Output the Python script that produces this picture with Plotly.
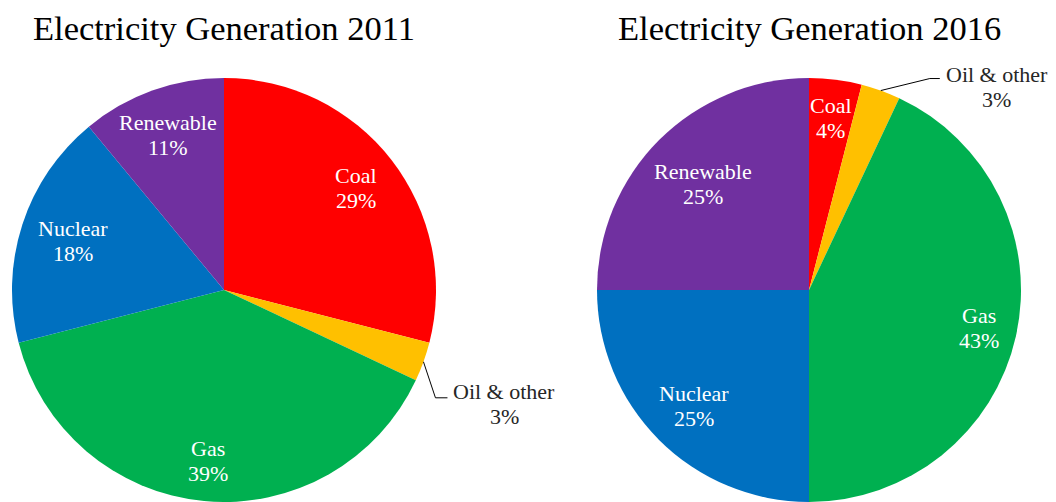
import math
import plotly.graph_objects as go

# Shares of electricity generation (%)
sources = ["Coal", "Oil & other", "Gas", "Nuclear", "Renewable"]
share_2011 = [29, 3, 39, 18, 11]
share_2016 = [4, 3, 43, 25, 25]
titles = ["Electricity Generation 2011", "Electricity Generation 2016"]

colors = ["#FF0000", "#FFC000", "#00B050", "#0070C0", "#7030A0"]

W, H = 1056, 502
FONT = "Liberation Serif"

# pie placement in pixels: centre x, centre y, radius
pies = [
    dict(cx=224, cy=290, r=212, values=share_2011, title=titles[0],
         label_frac=[0.79, None, 0.81, 0.75, 0.78],
         leader=dict(elbow=(12, 36), tail=12, text_dx=69, text_dy=-6)),
    dict(cx=809, cy=290, r=212, values=share_2016, title=titles[1],
         label_frac=[0.82, None, 0.82, 0.77, 0.71],
         leader=dict(elbow=(49, -12), tail=10, text_dx=67, text_dy=-4)),
]


def px(x):
    return x / W


def py(y):
    return 1 - y / H


fig = go.Figure()
annotations = []
shapes = []

for p in pies:
    cx, cy, r = p["cx"], p["cy"], p["r"]
    fig.add_trace(go.Pie(
        labels=sources,
        values=p["values"],
        sort=False,
        direction="clockwise",
        rotation=0,
        marker=dict(colors=colors, line=dict(width=0)),
        textinfo="none",
        hoverinfo="label+percent",
        showlegend=False,
        domain=dict(x=[px(cx - r), px(cx + r)], y=[py(cy + r), py(cy - r)]),
    ))

    # chart title
    annotations.append(dict(
        x=px(cx), y=py(28), xref="paper", yref="paper",
        text=p["title"], showarrow=False, xanchor="center", yanchor="middle",
        font=dict(family=FONT, size=34.5, color="#000000"),
    ))

    total = sum(p["values"])
    start = 0.0
    for name, val, frac in zip(sources, p["values"], p["label_frac"]):
        mid = (start + val / 2) / total * 2 * math.pi
        start += val
        sx, sy = math.sin(mid), -math.cos(mid)
        if frac is not None:
            lx, ly = cx + frac * r * sx, cy + frac * r * sy
            for txt, off in ((name, -12), (f"{val}%", 13)):
                annotations.append(dict(
                    x=px(lx), y=py(ly + off), xref="paper", yref="paper",
                    text=txt, showarrow=False, xanchor="center", yanchor="middle",
                    font=dict(family=FONT, size=22, color="#FFFFFF"),
                ))
        else:
            # small slice: label outside with a leader line
            ld = p["leader"]
            ex, ey = cx + r * sx, cy + r * sy
            bx, by = ex + ld["elbow"][0], ey + ld["elbow"][1]
            tx = bx + ld["tail"]
            shapes.append(dict(
                type="path", xref="paper", yref="paper",
                path=f"M {px(ex)},{py(ey)} L {px(bx)},{py(by)} L {px(tx)},{py(by)}",
                line=dict(color="#000000", width=1),
            ))
            lx = bx + ld["text_dx"]
            ly = by + ld["text_dy"]
            for txt, off in ((name, 0), (f"{val}%", 25)):
                annotations.append(dict(
                    x=px(lx), y=py(ly + off), xref="paper", yref="paper",
                    text=txt, showarrow=False, xanchor="center", yanchor="middle",
                    font=dict(family=FONT, size=22, color="#262626"),
                ))

fig.update_layout(
    width=W, height=H,
    margin=dict(l=0, r=0, t=0, b=0),
    paper_bgcolor="#FFFFFF",
    plot_bgcolor="#FFFFFF",
    font=dict(family=FONT),
    annotations=annotations,
    shapes=shapes,
)

fig.write_html("out.html")
